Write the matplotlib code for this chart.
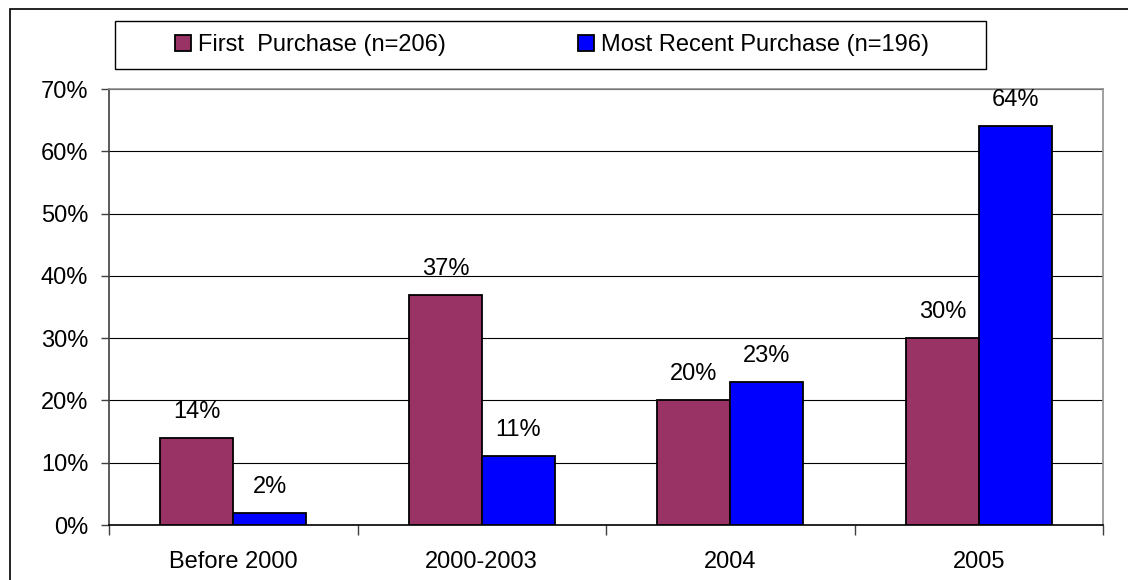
import matplotlib
matplotlib.use("Agg")
import matplotlib.pyplot as plt
from matplotlib.patches import Rectangle
import numpy as np

categories = ["Before 2000", "2000-2003", "2004", "2005"]
first_purchase = [14, 37, 20, 30]
recent_purchase = [2, 11, 23, 64]
series_labels = ["First  Purchase (n=206)", "Most Recent Purchase (n=196)"]
yticks = [0, 10, 20, 30, 40, 50, 60, 70]


def main():
    plt.rcParams["font.family"] = ["Liberation Sans", "DejaVu Sans"]
    fs = 17

    W, H = 1128, 580
    fig = plt.figure(figsize=(W / 100, H / 100), dpi=100)
    ax = fig.add_axes([109 / W, 1 - 525 / H, (1103 - 109) / W, (525 - 89) / H])

    x = np.arange(len(categories))
    w = 0.293
    b1 = ax.bar(x - w / 2, first_purchase, w, color="#993366",
                edgecolor="black", linewidth=1.3, label=series_labels[0], zorder=3)
    b2 = ax.bar(x + w / 2, recent_purchase, w, color="#0000FF",
                edgecolor="black", linewidth=1.3, label=series_labels[1], zorder=3)

    for bars, vals in ((b1, first_purchase), (b2, recent_purchase)):
        for rect, v in zip(bars, vals):
            ax.annotate(f"{v}%", (rect.get_x() + rect.get_width() / 2, v),
                        xytext=(0, 14.4), textcoords="offset points",
                        ha="center", va="baseline", fontsize=fs)

    ax.set_xlim(-0.5, len(categories) - 0.5)
    ax.set_ylim(0, 70)
    ax.set_yticks(yticks)
    ax.set_yticklabels([f"{t}%" for t in yticks], fontsize=fs)
    ax.tick_params(axis="y", length=6, width=1, pad=9, color="#404040")
    ax.yaxis.grid(True, color="black", linewidth=0.8, zorder=0)

    # category names sit between the boundary tick marks
    ax.set_xticks(np.arange(len(categories) + 1) - 0.5)
    ax.set_xticklabels([])
    ax.set_xticks(x, minor=True)
    ax.set_xticklabels(categories, minor=True, fontsize=fs)
    ax.tick_params(axis="x", which="major", length=7, width=1, color="#404040")
    ax.tick_params(axis="x", which="minor", length=0, pad=19)

    ax.spines["left"].set_color("#404040")
    ax.spines["bottom"].set_color("black")
    for s in ("top", "right"):
        ax.spines[s].set_color("#909090")
    for s in ax.spines.values():
        s.set_linewidth(1.2)

    # outer chart border and legend box
    fig.patches.append(Rectangle((10 / W, -0.1), 1.2, 1 - 9 / H + 0.1,
                                 transform=fig.transFigure, fill=False,
                                 edgecolor="black", linewidth=1.2))
    fig.patches.append(Rectangle((115 / W, 1 - 69 / H), (986 - 115) / W, 48 / H,
                                 transform=fig.transFigure, fill=False,
                                 edgecolor="black", linewidth=1.0))
    leg = fig.legend(handles=[b1, b2], loc="center left",
                     bbox_to_anchor=(175 / W, 1 - 45 / H), ncol=2,
                     frameon=False, fontsize=fs, borderpad=0, borderaxespad=0,
                     handlelength=0.68, handleheight=0.68,
                     handletextpad=0.3, columnspacing=5.6)
    for h in leg.legend_handles:
        h.set_linewidth(1.3)

    fig.savefig("out.png", dpi=100)


if __name__ == "__main__":
    main()
